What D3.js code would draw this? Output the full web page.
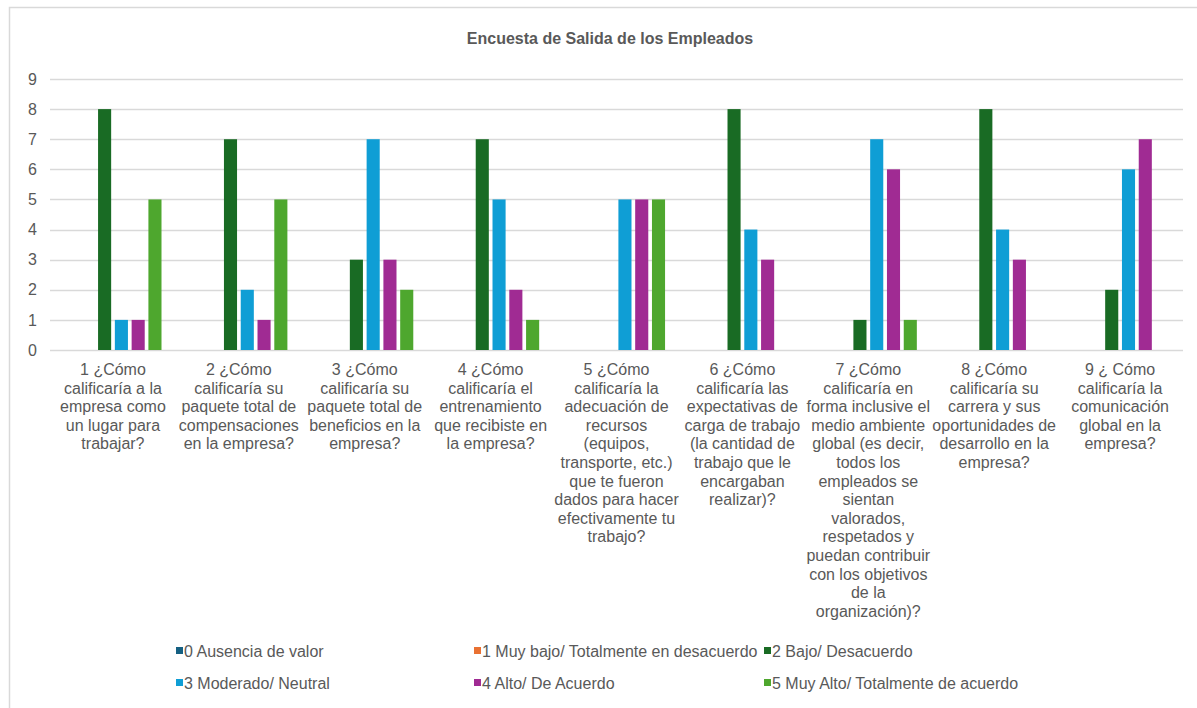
<!DOCTYPE html>
<html>
<head>
<meta charset="utf-8">
<script src="https://cdn.jsdelivr.net/npm/d3@7"></script>
<style>
html,body{margin:0;padding:0;background:#fff;}
svg{display:block;font-family:"Liberation Sans",Arial,sans-serif;}
</style>
</head>
<body>
<svg id="chart" width="1197" height="708"></svg>
<script>
const title = "Encuesta de Salida de los Empleados";
const categories = [
  ["1 ¿Cómo","calificaría a la","empresa como","un lugar para","trabajar?"],
  ["2 ¿Cómo","calificaría su","paquete total de","compensaciones","en la empresa?"],
  ["3 ¿Cómo","calificaría su","paquete total de","beneficios en la","empresa?"],
  ["4 ¿Cómo","calificaría el","entrenamiento","que recibiste en","la empresa?"],
  ["5 ¿Cómo","calificaría la","adecuación de","recursos","(equipos,","transporte, etc.)","que te fueron","dados para hacer","efectivamente tu","trabajo?"],
  ["6 ¿Cómo","calificaría las","expectativas de","carga de trabajo","(la cantidad de","trabajo que le","encargaban","realizar)?"],
  ["7 ¿Cómo","calificaría en","forma inclusive el","medio ambiente","global (es decir,","todos los","empleados se","sientan","valorados,","respetados y","puedan contribuir","con los objetivos","de la","organización)?"],
  ["8 ¿Cómo","calificaría su","carrera y sus","oportunidades de","desarrollo en la","empresa?"],
  ["9 ¿ Cómo","calificaría la","comunicación","global en la","empresa?"]
];
const seriesNames = ["0 Ausencia de valor","1 Muy bajo/ Totalmente en desacuerdo","2 Bajo/ Desacuerdo","3 Moderado/ Neutral","4 Alto/ De Acuerdo","5 Muy Alto/ Totalmente de acuerdo"];
const seriesColors = ["#156082","#E97132","#196B24","#0F9ED5","#A02B93","#4EA72E"];
const s0 = [0,0,0,0,0,0,0,0,0];
const s1 = [0,0,0,0,0,0,0,0,0];
const s2 = [8,7,3,7,0,8,1,8,2];
const s3 = [1,2,7,5,5,4,7,4,6];
const s4 = [1,1,3,2,5,3,6,3,7];
const s5 = [5,5,2,1,5,0,1,0,0];
const seriesValues = [s0,s1,s2,s3,s4,s5];
const yTicks = [0,1,2,3,4,5,6,7,8,9];

(function(){
const svg = d3.select("#chart");
const textColor = "#595959";

svg.append("rect").attr("x",9.5).attr("y",7.5).attr("width",1300).attr("height",800)
  .attr("fill","#fff").attr("stroke","#d9d9d9").attr("stroke-width",1.5);

svg.append("text").attr("x",610).attr("y",44).attr("text-anchor","middle")
  .attr("font-size",16).attr("font-weight","bold").attr("fill",textColor).text(title);

const pl = 50, pr = 1183, pt = 79, pb = 350;
const x0 = d3.scaleBand().domain(d3.range(categories.length)).range([pl,pr]).padding(0);
const x1 = d3.scaleBand().domain(d3.range(seriesNames.length)).range([14.5,111.5]).paddingInner(0.22).paddingOuter(0);
const y = d3.scaleLinear().domain([0,9]).range([pb,pt]);

svg.append("g").selectAll("line").data(yTicks).join("line")
  .attr("x1",pl).attr("x2",pr)
  .attr("y1",d=>Math.round(y(d))+0.5).attr("y2",d=>Math.round(y(d))+0.5)
  .attr("stroke","#d9d9d9").attr("stroke-width",1.3);

const yAxis = d3.axisLeft(y).tickValues(yTicks).tickSize(0).tickPadding(0);
const yg = svg.append("g").attr("transform","translate(37,0)").call(yAxis);
yg.select(".domain").remove();
yg.selectAll("text").attr("font-size",16).attr("fill",textColor).attr("font-family","Liberation Sans, Arial, sans-serif");

const groups = svg.append("g").selectAll("g").data(categories.map((c,i)=>i)).join("g")
  .attr("transform",i=>`translate(${x0(i)},0)`);
groups.selectAll("rect").data(i=>seriesValues.map((vals,s)=>({s,v:vals[i]})).filter(d=>d.v>0)).join("rect")
  .attr("x",d=>x1(d.s)).attr("width",x1.bandwidth())
  .attr("y",d=>y(d.v)).attr("height",d=>y(0)-y(d.v))
  .attr("fill",d=>seriesColors[d.s]);

const labG = svg.append("g");
categories.forEach((lines,i)=>{
  const t = labG.append("text").attr("text-anchor","middle").attr("font-size",16).attr("fill",textColor);
  lines.forEach((ln,k)=>{
    t.append("tspan").attr("x",x0(i)+x0.bandwidth()/2).attr("y",375+k*18.6).text(ln);
  });
});

const legendPos = [[176,657],[474,657],[764,657],[176,689],[474,689],[764,689]];
seriesNames.forEach((n,i)=>{
  const [lx,ly] = legendPos[i];
  svg.append("rect").attr("x",lx).attr("y",ly-10).attr("width",7).attr("height",7).attr("fill",seriesColors[i]);
  svg.append("text").attr("x",lx+8).attr("y",ly).attr("font-size",16).attr("fill",textColor).text(n);
});
})();
</script>
</body>
</html>
